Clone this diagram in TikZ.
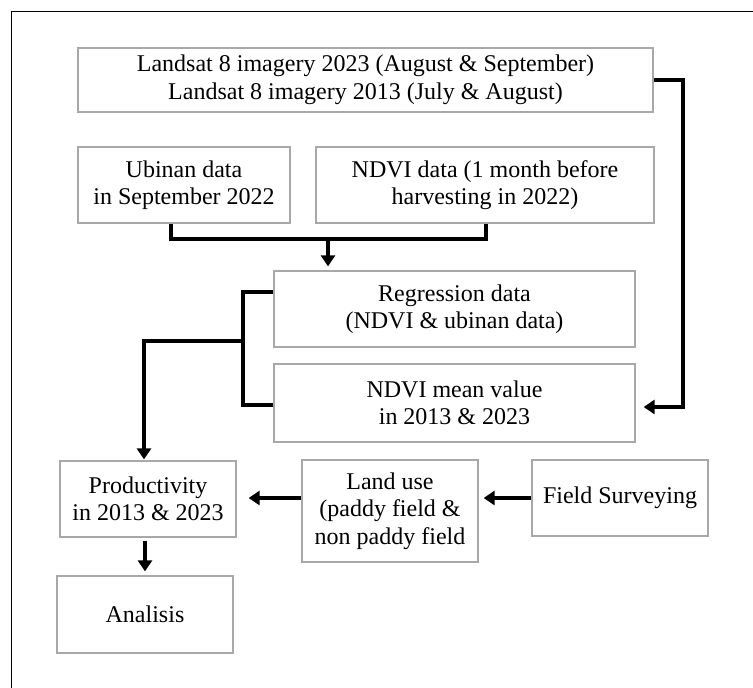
\documentclass[tikz,border=0pt]{standalone}
\usepackage{fontspec}
\setmainfont{Liberation Serif}
\usetikzlibrary{arrows.meta}
\definecolor{boxgray}{HTML}{A8A8A8}
\begin{document}
\begin{tikzpicture}[x=1pt,y=-1pt,
  box/.style={draw=boxgray, line width=1.3pt, align=center, inner sep=0pt,
    font=\fontsize{24}{27.5}\selectfont, text=black},
  link/.style={line width=3.2pt},
  arr/.style={link, -{Triangle[length=11pt,width=14pt]}}]
\useasboundingbox (0,0) rectangle (753,688);
\fill[white] (0,0) rectangle (753,688);
% outer frame (continues past the lower right corner)
\draw[line width=1.5pt] (11.5,760) -- (11.5,11.5) -- (800,11.5);

% boxes
\node[box, minimum width=575pt, minimum height=64pt] (top) at (365.5,80)
  {Landsat 8 imagery 2023 (August \& September)\\Landsat 8 imagery 2013 (July \& August)};
\node[box, minimum width=212pt, minimum height=76pt] (ubinan) at (184,185)
  {Ubinan data\\in September 2022};
\node[box, minimum width=338pt, minimum height=76pt] (ndvi) at (485,185)
  {NDVI data (1 month before\\harvesting in 2022)};
\node[box, minimum width=361pt, minimum height=76pt] (regression) at (454.5,309)
  {Regression data\\(NDVI \& ubinan data)};
\node[box, minimum width=361pt, minimum height=78pt] (mean) at (454.5,403)
  {NDVI mean value\\in 2013 \& 2023};
\node[box, minimum width=176pt, minimum height=76pt] (productivity) at (148,499)
  {Productivity\\in 2013 \& 2023};
\node[box, minimum width=176pt, minimum height=102pt] (landuse) at (390,511)
  {Land use\\(paddy field \&\\non paddy field};
\node[box, minimum width=176pt, minimum height=76pt] (field) at (620,498)
  {Field Surveying};
\node[box, minimum width=176pt, minimum height=77pt] (analisis) at (145,614.5)
  {Analisis};

% junction points of the connectors
\coordinate (jl) at (171,239);
\coordinate (jr) at (486,239);
\coordinate (jm) at (328,239);
\coordinate (rc) at (683,80);
\coordinate (rb) at (683,407);
\coordinate (bt) at (243,292);
\coordinate (bb) at (243,405);
\coordinate (bm) at (243,341);
\coordinate (bp) at (144,341);

% connectors
\draw[link] (ubinan.south -| jl) -- (jl) -- (jr) -- (ndvi.south -| jr);
\draw[arr, shorten >=4pt] (jm) -- (regression.north -| jm);
\draw[arr, shorten >=8pt] (top.east |- rc) -- (rc) -- (rb) -- (rb -| mean.east);
\draw[link] (bt -| regression.west) -- (bt) -- (bb) -- (bb -| mean.west);
\draw[arr, shorten >=1pt] (bm) -- (bp) -- (productivity.north -| bp);
\draw[arr, shorten >=12pt] (landuse.west |- field.west) -- (productivity.east |- field.west);
\draw[arr, shorten >=5pt] (field.west) -- (landuse.east |- field.west);
\draw[arr, shorten <=3pt, shorten >=4pt] (productivity.south -| analisis.north) -- (analisis.north);
\end{tikzpicture}
\end{document}
